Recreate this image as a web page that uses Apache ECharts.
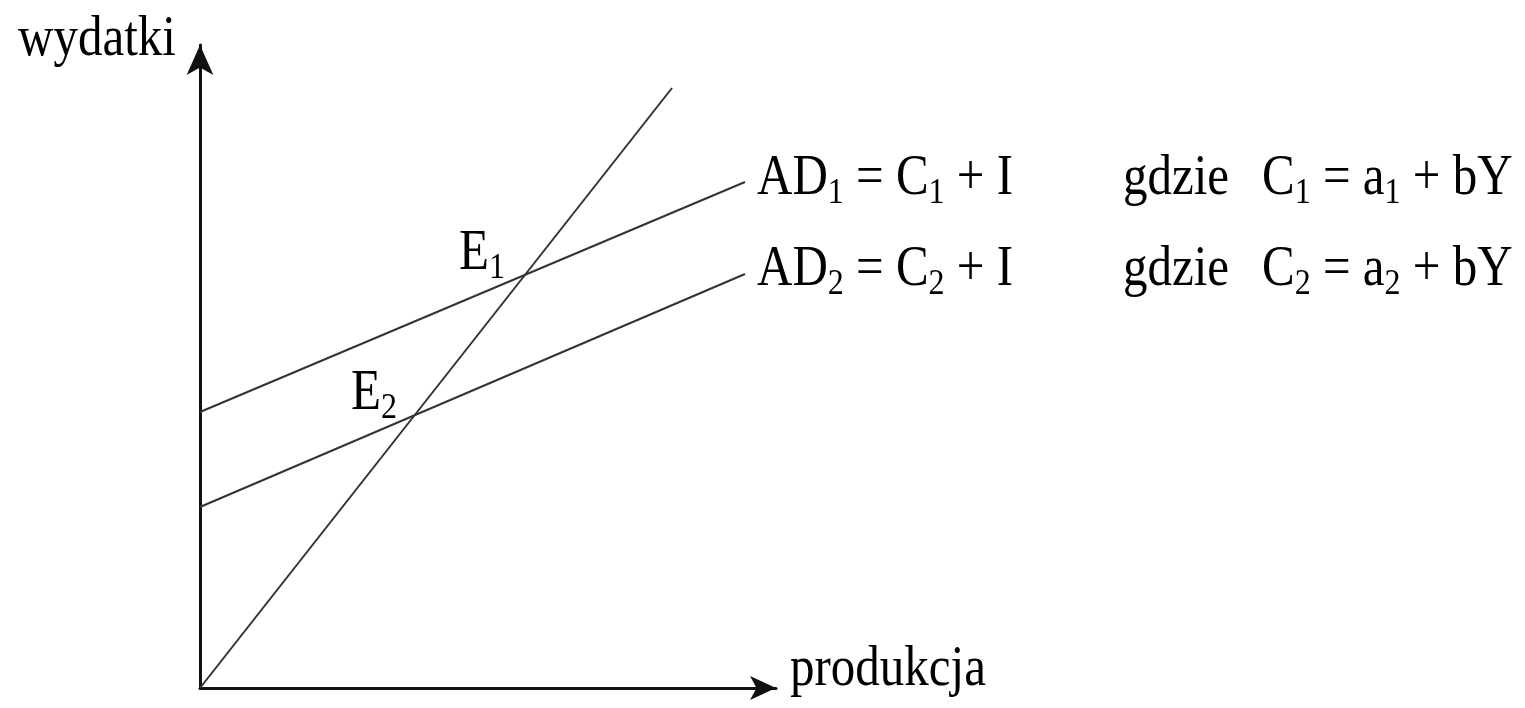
<!DOCTYPE html>
<html>
<head>
<meta charset="utf-8">
<script src="https://cdn.jsdelivr.net/npm/echarts@6/dist/echarts.min.js"></script>
<style>
  html, body { margin: 0; padding: 0; background: #fff; }
  #main { width: 1525px; height: 708px; }
</style>
</head>
<body>
<div id="main"></div>
<script>
// dane (jednostki umowne osi)
var line45 = [[0, 0], [472, 600]];
var ad1 = [[0, 276], [545, 506]];
var ad2 = [[0, 181], [545, 414]];

var xMax = 576;
var yMax = 643;

var serif = '"Liberation Serif", "DejaVu Serif", serif';

var rich = {
  a: { fontFamily: serif, fontSize: 49, lineHeight: 56, color: '#222' },
  s: { fontFamily: serif, fontSize: 32, color: '#222', verticalAlign: 'bottom' }
};

function label(x, y, text) {
  return {
    type: 'text',
    x: x,
    y: y,
    scaleY: 1.15,
    z: 100,
    style: { text: text, rich: rich, verticalAlign: 'top', align: 'left' }
  };
}

function lineSeries(data) {
  return {
    type: 'line',
    data: data,
    showSymbol: false,
    lineStyle: { color: '#333', width: 2 },
    silent: true
  };
}

var myChart = echarts.init(document.getElementById('main'));
myChart.setOption({
  animation: false,
  backgroundColor: '#fff',
  grid: { left: 200, right: 749, top: 45, bottom: 20 },
  xAxis: {
    type: 'value', min: 0, max: xMax,
    axisLine: { onZero: false, symbol: ['none', 'arrow'], symbolSize: [18, 26], lineStyle: { color: '#111', width: 3 } },
    axisTick: { show: false }, axisLabel: { show: false }, splitLine: { show: false }
  },
  yAxis: {
    type: 'value', min: 0, max: yMax,
    axisLine: { show: true, onZero: false, symbol: ['none', 'arrow'], symbolSize: [20, 30], lineStyle: { color: '#111', width: 3 } },
    axisTick: { show: false }, axisLabel: { show: false }, splitLine: { show: false }
  },
  series: [lineSeries(line45), lineSeries(ad1), lineSeries(ad2)],
  graphic: [
    label(18, 8, '{a|wydatki}'),
    label(790, 638, '{a|produkcja}'),
    label(757, 147, '{a|AD}{s|1}{a| = C}{s|1}{a| + I}'),
    label(1123, 147, '{a|gdzie}'),
    label(1262, 147, '{a|C}{s|1}{a| = a}{s|1}{a| + bY}'),
    label(757, 238, '{a|AD}{s|2}{a| = C}{s|2}{a| + I}'),
    label(1123, 238, '{a|gdzie}'),
    label(1262, 238, '{a|C}{s|2}{a| = a}{s|2}{a| + bY}'),
    label(459, 222, '{a|E}{s|1}'),
    label(351, 362, '{a|E}{s|2}')
  ]
});
</script>
</body>
</html>
